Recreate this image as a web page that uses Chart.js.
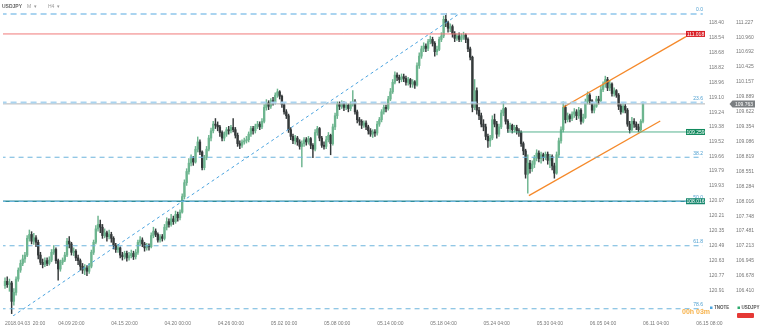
<!DOCTYPE html>
<html>
<head>
<meta charset="utf-8">
<script src="https://cdn.jsdelivr.net/npm/chart.js@4.4.1/dist/chart.umd.min.js"></script>
<style>
  html, body { margin: 0; padding: 0; background: #fff; overflow: hidden; }
  canvas { display: block; }
</style>
</head>
<body>
<canvas id="chart" width="760" height="331"></canvas>
<script>
// USDJPY H4 candles, one per 4 hours, 2018.04.03 20:00 -> 2018.06.11 04:00
const opens = [
  106.50,106.58,106.52,106.55,106.22,106.38,106.62,106.78,106.90,106.98,
  107.05,107.35,107.42,107.30,107.36,107.28,107.05,106.92,106.88,106.95,
  106.90,106.96,107.10,107.15,106.95,106.80,106.92,106.96,107.05,107.30,
  107.25,107.10,107.12,107.00,106.95,106.85,106.78,106.82,106.76,106.85,
  107.10,107.28,107.52,107.60,107.55,107.40,107.45,107.38,107.42,107.35,
  107.22,107.15,107.18,107.05,107.02,107.08,107.00,107.04,107.08,107.02,
  107.10,107.28,107.32,107.25,107.18,107.22,107.20,107.40,107.48,107.42,
  107.32,107.38,107.35,107.55,107.65,107.60,107.70,107.65,107.78,107.72,
  107.82,108.10,108.35,108.55,108.70,108.78,108.72,108.95,109.08,108.90,
  108.62,108.80,108.95,109.15,109.28,109.40,109.38,109.35,109.25,109.15,
  109.22,109.30,109.28,109.34,109.30,109.20,109.05,109.02,109.08,109.10,
  109.12,109.22,109.32,109.28,109.36,109.40,109.35,109.45,109.70,109.78,
  109.72,109.82,109.80,109.92,109.98,109.90,109.75,109.62,109.55,109.30,
  109.18,109.10,109.15,109.08,109.00,109.05,109.12,109.08,109.14,109.02,
  108.95,109.25,109.32,109.15,109.02,109.00,109.12,109.20,109.05,109.35,
  109.55,109.75,109.72,109.78,109.70,109.74,109.68,109.76,109.80,109.62,
  109.48,109.45,109.38,109.42,109.35,109.28,109.22,109.26,109.24,109.40,
  109.48,109.62,109.70,109.68,109.85,109.98,110.15,110.28,110.24,110.20,
  110.25,110.22,110.15,110.20,110.12,110.16,110.10,110.45,110.62,110.75,
  110.80,110.76,110.88,110.92,110.85,110.70,110.74,110.92,110.98,111.28,
  111.22,111.12,111.15,111.02,110.94,110.98,110.92,110.96,111.00,110.92,
  110.75,110.60,109.70,110.00,109.65,109.55,109.40,109.35,109.18,109.10,
  109.15,109.48,109.40,109.22,109.35,109.60,109.68,109.45,109.32,109.38,
  109.30,109.34,109.28,109.25,109.05,108.92,108.50,108.70,108.60,108.68,
  108.80,108.88,108.78,108.85,108.80,108.86,108.75,108.82,108.65,108.52,
  108.85,109.10,109.30,109.70,109.48,109.55,109.50,109.58,109.62,109.55,
  109.65,109.45,109.52,109.80,109.92,109.82,109.65,109.72,109.85,109.82,
  110.02,110.12,110.20,110.05,110.12,109.95,110.00,109.92,109.72,109.62,
  109.72,109.65,109.40,109.30,109.45,109.40,109.35,109.30,109.45
];
const highs = [
  106.64,106.66,106.62,106.58,106.45,106.66,106.82,106.96,107.05,107.10,
  107.40,107.50,107.47,107.44,107.40,107.32,107.10,106.98,107.00,107.00,
  107.02,107.15,107.22,107.18,106.98,106.96,107.00,107.10,107.35,107.38,
  107.28,107.18,107.15,107.05,106.98,106.90,106.88,106.86,106.90,107.14,
  107.32,107.58,107.75,107.68,107.60,107.52,107.48,107.50,107.46,107.38,
  107.26,107.24,107.20,107.10,107.12,107.12,107.10,107.14,107.12,107.15,
  107.32,107.38,107.36,107.28,107.26,107.25,107.45,107.55,107.52,107.45,
  107.42,107.42,107.60,107.72,107.70,107.78,107.75,107.84,107.82,107.86,
  108.15,108.40,108.60,108.78,108.85,108.82,109.00,109.17,109.12,108.92,
  108.84,109.00,109.20,109.33,109.45,109.50,109.44,109.38,109.28,109.26,
  109.34,109.36,109.38,109.50,109.34,109.24,109.10,109.12,109.15,109.18,
  109.26,109.36,109.36,109.40,109.45,109.44,109.50,109.75,109.84,109.82,
  109.86,109.88,109.96,110.03,110.00,109.92,109.78,109.66,109.58,109.34,
  109.22,109.20,109.18,109.12,109.10,109.16,109.16,109.18,109.16,109.05,
  109.30,109.36,109.34,109.18,109.08,109.18,109.25,109.22,109.40,109.60,
  109.80,109.80,109.82,109.80,109.78,109.76,109.80,110.00,109.84,109.65,
  109.52,109.48,109.46,109.46,109.38,109.32,109.30,109.30,109.45,109.52,
  109.66,109.74,109.74,109.90,110.04,110.20,110.34,110.32,110.28,110.30,
  110.30,110.26,110.24,110.22,110.20,110.18,110.50,110.68,110.80,110.86,
  110.84,110.92,110.98,110.96,110.88,110.80,110.96,111.04,111.34,111.39,
  111.25,111.20,111.18,111.06,111.02,111.04,111.02,111.05,111.02,110.95,
  110.78,110.62,110.20,110.05,109.70,109.60,109.48,109.40,109.22,109.20,
  109.55,109.58,109.45,109.40,109.65,109.80,109.70,109.48,109.42,109.40,
  109.38,109.38,109.32,109.28,109.08,108.95,108.85,108.75,108.74,108.84,
  108.94,108.92,108.90,108.88,108.90,108.90,108.86,108.85,108.70,108.90,
  109.15,109.35,109.80,109.74,109.60,109.58,109.62,109.68,109.66,109.70,
  109.68,109.58,109.85,109.98,109.95,109.84,109.78,109.90,109.90,110.08,
  110.16,110.26,110.24,110.18,110.14,110.05,110.02,109.95,109.76,109.78,
  109.76,109.68,109.45,109.52,109.50,109.44,109.40,109.48,109.80
];
const lows = [
  106.45,106.47,106.40,106.00,106.15,106.33,106.58,106.74,106.86,106.92,
  107.02,107.30,107.25,107.24,107.20,106.98,106.88,106.82,106.84,106.86,
  106.87,106.93,107.06,106.90,106.60,106.76,106.88,106.93,107.02,107.18,
  107.05,107.04,106.95,106.88,106.78,106.72,106.70,106.68,106.72,106.82,
  107.06,107.25,107.48,107.45,107.35,107.36,107.30,107.34,107.28,107.16,
  107.10,107.10,107.00,106.96,106.98,106.94,106.96,107.00,106.97,106.98,
  107.06,107.22,107.20,107.12,107.14,107.14,107.18,107.36,107.38,107.28,
  107.28,107.30,107.32,107.50,107.55,107.57,107.60,107.62,107.66,107.68,
  107.80,108.06,108.30,108.50,108.65,108.66,108.70,108.90,108.85,108.58,
  108.58,108.76,108.92,109.10,109.24,109.32,109.28,109.18,109.10,109.10,
  109.18,109.22,109.24,109.26,109.15,109.00,108.96,108.98,109.04,109.06,
  109.08,109.18,109.22,109.24,109.32,109.30,109.32,109.42,109.65,109.66,
  109.68,109.74,109.76,109.88,109.85,109.70,109.58,109.50,109.25,109.12,
  109.05,109.04,109.02,108.95,108.63,109.00,109.02,109.04,108.96,108.80,
  108.92,109.20,109.10,108.98,108.95,108.96,109.08,108.85,109.02,109.30,
  109.50,109.66,109.68,109.64,109.66,109.62,109.64,109.72,109.58,109.42,
  109.38,109.32,109.34,109.30,109.22,109.18,109.16,109.18,109.20,109.36,
  109.44,109.58,109.62,109.65,109.82,109.95,110.12,110.18,110.14,110.16,
  110.16,110.10,110.10,110.06,110.06,110.04,110.08,110.40,110.58,110.70,
  110.70,110.72,110.84,110.80,110.62,110.64,110.72,110.88,110.95,111.15,
  111.05,111.06,110.96,110.88,110.90,110.88,110.88,110.92,110.86,110.70,
  110.55,109.62,109.66,109.58,109.48,109.35,109.28,109.12,108.98,109.00,
  109.12,109.35,109.15,109.18,109.32,109.55,109.40,109.25,109.28,109.24,
  109.26,109.22,109.18,109.00,108.85,108.43,108.16,108.52,108.55,108.62,
  108.74,108.72,108.70,108.74,108.76,108.68,108.62,108.58,108.43,108.50,
  108.80,109.06,109.26,109.42,109.44,109.44,109.46,109.52,109.48,109.50,
  109.40,109.42,109.50,109.76,109.76,109.60,109.60,109.70,109.76,109.80,
  109.98,110.06,110.00,110.00,109.90,109.90,109.88,109.66,109.58,109.60,
  109.60,109.36,109.24,109.28,109.34,109.30,109.26,109.28,109.42
];
const closes = [
  106.58,106.52,106.55,106.22,106.38,106.62,106.78,106.90,106.98,107.05,
  107.35,107.42,107.30,107.36,107.28,107.05,106.92,106.88,106.95,106.90,
  106.96,107.10,107.15,106.95,106.80,106.92,106.96,107.05,107.30,107.25,
  107.10,107.12,107.00,106.95,106.85,106.78,106.82,106.76,106.85,107.10,
  107.28,107.52,107.60,107.55,107.40,107.45,107.38,107.42,107.35,107.22,
  107.15,107.18,107.05,107.02,107.08,107.00,107.04,107.08,107.02,107.10,
  107.28,107.32,107.25,107.18,107.22,107.20,107.40,107.48,107.42,107.32,
  107.38,107.35,107.55,107.65,107.60,107.70,107.65,107.78,107.72,107.82,
  108.10,108.35,108.55,108.70,108.78,108.72,108.95,109.08,108.90,108.62,
  108.80,108.95,109.15,109.28,109.40,109.38,109.35,109.25,109.15,109.22,
  109.30,109.28,109.34,109.30,109.20,109.05,109.02,109.08,109.10,109.12,
  109.22,109.32,109.28,109.36,109.40,109.35,109.45,109.70,109.78,109.72,
  109.82,109.80,109.92,109.98,109.90,109.75,109.62,109.55,109.30,109.18,
  109.10,109.15,109.08,109.00,109.05,109.12,109.08,109.14,109.02,108.95,
  109.25,109.32,109.15,109.02,109.00,109.12,109.20,109.05,109.35,109.55,
  109.75,109.72,109.78,109.70,109.74,109.68,109.76,109.80,109.62,109.48,
  109.45,109.38,109.42,109.35,109.28,109.22,109.26,109.24,109.40,109.48,
  109.62,109.70,109.68,109.85,109.98,110.15,110.28,110.24,110.20,110.25,
  110.22,110.15,110.20,110.12,110.16,110.10,110.45,110.62,110.75,110.80,
  110.76,110.88,110.92,110.85,110.70,110.74,110.92,110.98,111.28,111.22,
  111.12,111.15,111.02,110.94,110.98,110.92,110.96,111.00,110.92,110.75,
  110.60,109.70,110.00,109.65,109.55,109.40,109.35,109.18,109.10,109.15,
  109.48,109.40,109.22,109.35,109.60,109.68,109.45,109.32,109.38,109.30,
  109.34,109.28,109.25,109.05,108.92,108.50,108.70,108.60,108.68,108.80,
  108.88,108.78,108.85,108.80,108.86,108.75,108.82,108.65,108.52,108.85,
  109.10,109.30,109.70,109.48,109.55,109.50,109.58,109.62,109.55,109.65,
  109.45,109.52,109.80,109.92,109.82,109.65,109.72,109.85,109.82,110.02,
  110.12,110.20,110.05,110.12,109.95,110.00,109.92,109.72,109.62,109.72,
  109.65,109.40,109.30,109.45,109.40,109.35,109.30,109.45,109.763
];

// time labels, one every 24 bars
const timeLabels = ['2018.04.03  20:00', '04.09 20:00', '04.15 20:00', '04.20 00:00', '04.26 00:00',
  '05.02 00:00', '05.08 00:00', '05.14 00:00', '05.18 04:00', '05.24 04:00', '05.30 04:00',
  '06.05 04:00', '06.11 04:00', '06.15 08:00'];
const priceTicks = [111.227, 110.960, 110.692, 110.425, 110.157, 109.889, 109.622, 109.354, 109.086,
  108.819, 108.551, 108.284, 108.016, 107.748, 107.481, 107.213, 106.945, 106.678, 106.410];
const tnoteTicks = [118.40, 118.54, 118.68, 118.82, 118.96, 119.10, 119.24, 119.38, 119.52, 119.66,
  119.79, 119.93, 120.07, 120.21, 120.35, 120.49, 120.63, 120.77, 120.91];

// fibonacci retracement (from the 111.376 high down to the 104.647 low)
const fibLevels = [0, 23.6, 38.2, 50, 61.8, 78.6];
const fibLabels = ['0.0', '23.6', '38.2', '50.0', '61.8', '78.6'];
const fibHigh = 111.376, fibLow = 104.647;

// horizontal levels
const lastPrice = 109.763;
const resistance = 111.018;
const support = 109.259;
const support2 = 108.016;

// trend lines [bar, price]
const trendUp = [[3.6, 105.957], [204.9, 111.376]];
const channelTop = [[252.0, 109.702], [307.4, 110.969]];
const channelBottom = [[236.5, 108.116], [295.8, 109.456]];

const BULL = '#6db58f', BEAR = '#34393a';
const idx = closes.map((c, i) => i);
const candleColor = ctx => closes[ctx.dataIndex] >= opens[ctx.dataIndex] ? BULL : BEAR;

function seg(pts, color, width, dash) {
  return {
    type: 'line',
    data: pts.map(p => ({ x: p[0], y: p[1] })),
    borderColor: color, borderWidth: width, borderDash: dash || [],
    pointRadius: 0, fill: false, yAxisID: 'y', order: 0
  };
}

const fibPrice = lv => fibHigh - lv / 100 * (fibHigh - fibLow);
const fibSets = fibLevels.map((lv, k) => seg([[-2, fibPrice(lv)], [315, fibPrice(lv)]],
  k < 2 ? '#aad4f0' : '#6cb4dc', k < 2 ? 1.8 : 1, k < 2 ? [6, 4] : [5, 4]));

const overlay = {
  id: 'overlay',
  afterDraw(chart) {
    const c = chart.ctx, y = chart.scales.y;
    c.save();
    c.textBaseline = 'middle';
    // fib labels
    c.font = '5px "Liberation Sans", Arial, sans-serif';
    c.fillStyle = '#4d9fd0';
    c.textAlign = 'right';
    fibLevels.forEach((lv, k) => c.fillText(fibLabels[k], 703, y.getPixelForValue(fibPrice(lv)) - 4));
    // level boxes
    const box = (v, bg) => {
      const py = y.getPixelForValue(v);
      c.fillStyle = bg;
      c.fillRect(686, py - 3, 19, 6);
      c.fillStyle = '#fff';
      c.textAlign = 'center';
      c.fillText(v.toFixed(3), 695.5, py + 0.3);
    };
    box(resistance, '#d91f26');
    box(support, '#128a5e');
    box(support2, '#16876d');
    // last price tag on the outer axis
    const lp = y.getPixelForValue(lastPrice);
    c.fillStyle = '#7b7f82';
    c.beginPath();
    c.moveTo(729.5, lp);
    c.lineTo(732.5, lp - 3.5);
    c.lineTo(755, lp - 3.5);
    c.lineTo(755, lp + 3.5);
    c.lineTo(732.5, lp + 3.5);
    c.closePath();
    c.fill();
    c.fillStyle = '#fff';
    c.fillText(lastPrice.toFixed(3), 744, lp + 0.3);
    // title
    c.textAlign = 'left';
    c.fillStyle = '#666';
    c.font = 'bold 5px "Liberation Sans", Arial, sans-serif';
    c.fillText('USDJPY', 2, 7);
    c.font = '5px "Liberation Sans", Arial, sans-serif';
    c.fillStyle = '#999';
    c.fillText('M  \u25BE', 27, 7);
    c.fillText('H4  \u25BE', 48, 7);
    // timer
    c.font = 'bold 7px "Liberation Sans", Arial, sans-serif';
    c.fillStyle = '#f7b24a';
    c.fillText('00h 03m', 682, 312.5);
    // legend
    c.font = 'bold 4.5px "Liberation Sans", Arial, sans-serif';
    c.fillStyle = '#4da6e0';
    c.fillRect(710, 306.5, 2.5, 2.5);
    c.fillStyle = '#555';
    c.fillText('TNOTE', 714, 308);
    c.fillStyle = '#2eaa6e';
    c.fillRect(737.5, 306.5, 2.5, 2.5);
    c.fillStyle = '#555';
    c.fillText('USDJPY', 741.5, 308);
    c.fillStyle = '#e53935';
    c.beginPath();
    c.roundRect(737, 313, 17, 5, 1);
    c.fill();
    c.restore();
  }
};

const tickFont = { size: 5, family: '"Liberation Sans", Arial, sans-serif' };
const noPad = s => { s.paddingTop = 0; s.paddingBottom = 0; };

new Chart(document.getElementById('chart'), {
  type: 'bar',
  data: {
    datasets: [
      ...fibSets,
      seg([[-2, support2], [307.4, support2]], '#2f8e9c', 1.4),
      seg([[-2, lastPrice], [316, lastPrice]], '#b5b5b5', 1),
      seg([[-2, resistance], [307.4, resistance]], '#f07a7a', 1),
      seg([[226.8, support], [307.4, support]], '#56b28f', 1),
      seg(trendUp, '#4aa3df', 1, [3, 3]),
      seg(channelTop, '#f5892a', 1.3),
      seg(channelBottom, '#f5892a', 1.3),
      {
        label: 'wick', data: idx.map(i => ({ x: i, y: [lows[i], highs[i]] })),
        backgroundColor: candleColor, barThickness: 0.8, grouped: false, order: 2, yAxisID: 'y'
      },
      {
        label: 'body', data: idx.map(i => ({ x: i, y: [opens[i], closes[i]] })),
        backgroundColor: candleColor, barThickness: 1.7, grouped: false, order: 1, yAxisID: 'y'
      }
    ]
  },
  options: {
    responsive: false,
    animation: false,
    devicePixelRatio: 1,
    layout: { padding: 0 },
    plugins: { legend: { display: false }, tooltip: { enabled: false } },
    scales: {
      x: {
        type: 'linear', min: -0.9, max: 316, offset: false,
        grid: { display: false, drawTicks: false }, border: { display: false },
        afterBuildTicks: s => { s.ticks = timeLabels.map((t, k) => ({ value: k * 24 })); },
        afterFit: s => { s.height = 15; },
        ticks: {
          autoSkip: false, maxRotation: 0, align: 'start', padding: 5,
          color: '#777', font: tickFont,
          callback: v => timeLabels[v / 24]
        }
      },
      y2: {
        position: 'right', weight: 0, reverse: true, min: 118.191, max: 121.147,
        grid: { display: false, drawTicks: false }, border: { display: false },
        afterBuildTicks: s => { s.ticks = tnoteTicks.map(v => ({ value: v })); },
        afterFit: s => { s.width = 27; noPad(s); },
        ticks: { padding: 4, color: '#777', font: tickFont, callback: v => v.toFixed(2) }
      },
      y: {
        position: 'right', weight: 1, min: 105.957, max: 111.627,
        grid: { display: false, drawTicks: false }, border: { display: false },
        afterBuildTicks: s => { s.ticks = priceTicks.map(v => ({ value: v })); },
        afterFit: s => { s.width = 28; noPad(s); },
        ticks: { padding: 4, color: '#777', font: tickFont, callback: v => v.toFixed(3) }
      }
    }
  },
  plugins: [overlay]
});
</script>
</body>
</html>
